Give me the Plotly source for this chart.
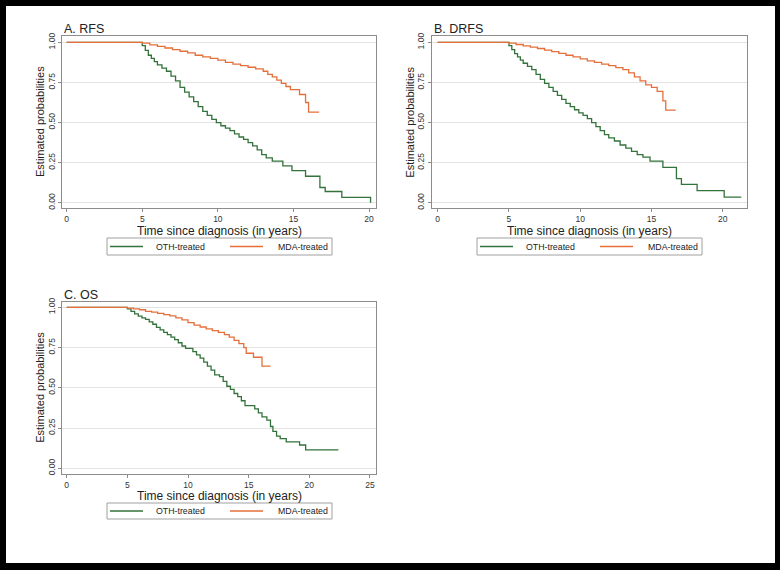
import plotly.graph_objects as go

# Kaplan-Meier step points (time in years, survival)
rfs_oth_t = [0, 5.0, 5.2, 5.4, 5.6, 5.8, 6.0, 6.3, 6.6, 6.9, 7.2, 7.5, 7.8, 8.1, 8.4, 8.7, 9.0, 9.3, 9.6, 9.9,
             10.2, 10.5, 10.8, 11.1, 11.4, 11.7, 12.0, 12.3, 12.6, 12.9, 13.2, 13.6, 14.3, 14.9, 15.8, 16.75,
             17.1, 18.2, 20.1]
rfs_oth_s = [1, 0.98, 0.95, 0.92, 0.90, 0.88, 0.86, 0.84, 0.82, 0.79, 0.76, 0.72, 0.69, 0.66, 0.63, 0.60, 0.57,
             0.545, 0.52, 0.50, 0.48, 0.465, 0.45, 0.43, 0.41, 0.395, 0.375, 0.355, 0.33, 0.30, 0.28, 0.26, 0.23,
             0.20, 0.165, 0.095, 0.07, 0.033, 0.0]
rfs_mda_t = [0, 5.0, 5.5, 6.0, 6.5, 7.0, 7.5, 8.0, 8.5, 9.0, 9.5, 10.0, 10.5, 11.0, 11.5, 12.0, 12.5, 13.0,
             13.3, 13.6, 13.9, 14.2, 14.5, 14.8, 15.4, 15.8, 16.0, 16.7]
rfs_mda_s = [1, 0.995, 0.985, 0.975, 0.965, 0.955, 0.945, 0.935, 0.92, 0.91, 0.90, 0.89, 0.875, 0.865, 0.855,
             0.845, 0.835, 0.82, 0.80, 0.785, 0.765, 0.745, 0.725, 0.705, 0.675, 0.625, 0.565, 0.565]

drfs_oth_t = [0, 5.0, 5.2, 5.4, 5.6, 5.8, 6.0, 6.3, 6.6, 6.9, 7.2, 7.5, 7.8, 8.1, 8.4, 8.7, 9.0, 9.3, 9.6, 9.9,
              10.2, 10.5, 10.8, 11.1, 11.4, 11.7, 12.0, 12.4, 12.8, 13.2, 13.6, 14.0, 14.4, 14.9, 15.8, 16.75,
              17.1, 18.2, 20.1, 21.3]
drfs_oth_s = [1, 0.98, 0.955, 0.93, 0.91, 0.89, 0.87, 0.85, 0.83, 0.80, 0.77, 0.745, 0.72, 0.695, 0.67, 0.645,
              0.62, 0.60, 0.58, 0.56, 0.545, 0.525, 0.50, 0.475, 0.45, 0.425, 0.405, 0.385, 0.36, 0.34, 0.32,
              0.30, 0.285, 0.26, 0.22, 0.15, 0.115, 0.075, 0.035, 0.035]
drfs_mda_t = [0, 5.0, 5.5, 6.0, 6.5, 7.0, 7.5, 8.0, 8.5, 9.0, 9.5, 10.0, 10.5, 11.0, 11.5, 12.0, 12.5, 13.0,
              13.4, 13.8, 14.2, 14.6, 15.0, 15.4, 15.8, 16.0, 16.7]
drfs_mda_s = [1, 0.995, 0.987, 0.978, 0.97, 0.962, 0.952, 0.942, 0.932, 0.92, 0.91, 0.897, 0.885, 0.875,
              0.865, 0.855, 0.843, 0.83, 0.81, 0.785, 0.76, 0.735, 0.72, 0.695, 0.635, 0.578, 0.578]

os_oth_t = [0, 5.0, 5.3, 5.6, 5.9, 6.2, 6.5, 6.8, 7.1, 7.4, 7.7, 8.0, 8.3, 8.6, 8.9, 9.2, 9.5, 9.8, 10.4, 10.7,
            11.0, 11.3, 11.6, 11.9, 12.2, 12.6, 12.9, 13.2, 13.5, 13.8, 14.1, 14.4, 14.7, 15.5, 15.8, 16.1,
            16.5, 16.8, 17.0, 17.3, 17.6, 18.1, 19.2, 19.7, 22.4]
os_oth_s = [1, 0.99, 0.975, 0.96, 0.945, 0.935, 0.925, 0.91, 0.895, 0.875, 0.86, 0.845, 0.83, 0.815, 0.80,
            0.78, 0.76, 0.745, 0.725, 0.705, 0.685, 0.66, 0.635, 0.61, 0.58, 0.57, 0.54, 0.51, 0.49, 0.465,
            0.445, 0.42, 0.39, 0.37, 0.345, 0.32, 0.30, 0.26, 0.23, 0.20, 0.185, 0.165, 0.145, 0.115, 0.115]
os_mda_t = [0, 5.0, 5.5, 6.0, 6.5, 7.0, 7.5, 8.0, 8.5, 9.0, 9.5, 10.0, 10.5, 11.0, 11.5, 12.0, 12.5, 13.0,
            13.4, 13.8, 14.2, 14.6, 14.8, 15.4, 16.1, 16.8]
os_mda_s = [1, 0.995, 0.99, 0.985, 0.975, 0.97, 0.963, 0.955, 0.947, 0.935, 0.922, 0.905, 0.89, 0.878, 0.866,
            0.855, 0.845, 0.83, 0.815, 0.795, 0.775, 0.75, 0.715, 0.69, 0.635, 0.635]

panel_titles = ["A. RFS", "B. DRFS", "C. OS"]
group_names = ["OTH-treated", "MDA-treated"]
y_ticks = [0, 0.25, 0.5, 0.75, 1.0]

green = "#33723a"
orange = "#e56f3a"
font = "Liberation Sans, Arial, sans-serif"

panels = [
    (rfs_oth_t, rfs_oth_s, rfs_mda_t, rfs_mda_s),
    (drfs_oth_t, drfs_oth_s, drfs_mda_t, drfs_mda_s),
    (os_oth_t, os_oth_s, os_mda_t, os_mda_s),
]

W, H = 780, 570
# panel boxes in pixels: left, right, top, bottom
boxes = [(62, 376, 36, 208), (431.7, 746.7, 36, 208), (62, 376, 301.7, 474)]
x_ranges = [[-0.31, 20.46], [-0.42, 21.68], [-0.39, 25.5]]
y_ranges = [[-0.033, 1.04], [-0.033, 1.04], [-0.035, 1.035]]
# legend boxes in pixels: left, right, top, bottom
legend_boxes = [(107, 332, 238, 255), (477, 702, 238, 255), (107, 332, 503, 519)]
xtitle_px = [230.5, 230.5, 495.5]


def px(x):
    return x / W


def py(y):
    return 1 - y / H


fig = go.Figure()

for i, (ot, os_, mt, ms) in enumerate(panels):
    n = "" if i == 0 else str(i + 1)
    left, right, top, bottom = boxes[i]
    fig.add_trace(go.Scatter(x=ot, y=os_, mode="lines", line_shape="hv", name=group_names[0],
                             line=dict(color=green, width=1.3), xaxis="x" + n, yaxis="y" + n,
                             showlegend=False))
    fig.add_trace(go.Scatter(x=mt, y=ms, mode="lines", line_shape="hv", name=group_names[1],
                             line=dict(color=orange, width=1.3), xaxis="x" + n, yaxis="y" + n,
                             showlegend=False))

    fig.update_layout({
        "xaxis" + n: dict(domain=[px(left), px(right)], range=x_ranges[i], anchor="y" + n, dtick=5, tick0=0,
                          showgrid=False, zeroline=False, showline=True, mirror=True, linecolor="#8c8c8c",
                          linewidth=1, ticks="outside", ticklen=3, tickcolor="#8c8c8c", automargin=False,
                          tickfont=dict(size=8.5, color="#333")),
        "yaxis" + n: dict(domain=[py(bottom), py(top)], range=y_ranges[i], anchor="x" + n,
                          tickvals=y_ticks, tickformat=".2f", tickangle=-90, showgrid=True, gridcolor="#e3e3e3",
                          gridwidth=1, zeroline=False, showline=True, mirror=True, linecolor="#8c8c8c",
                          linewidth=1, ticks="outside", ticklen=3, tickcolor="#8c8c8c", automargin=False,
                          tickfont=dict(size=8.5, color="#333")),
    })
    fig.add_annotation(text=panel_titles[i], x=px(left), y=py(top - 7), xref="paper", yref="paper",
                       xanchor="left", yanchor="middle", showarrow=False, font=dict(size=12.5, color="#222"))
    fig.add_annotation(text="Time since diagnosis (in years)", x=px((left + right) / 2), y=py(xtitle_px[i]),
                       xref="paper", yref="paper", xanchor="center", yanchor="middle", showarrow=False,
                       font=dict(size=12, color="#222"))
    fig.add_annotation(text="Estimated probabilities", x=px(left - 22), y=py((top + bottom) / 2),
                       xref="paper", yref="paper", xanchor="center", yanchor="middle", textangle=-90,
                       showarrow=False, font=dict(size=11, color="#222"))

    # legend box under each panel
    l0, l1, t0, t1 = legend_boxes[i]
    ym = (t0 + t1) / 2
    fig.add_shape(type="rect", xref="paper", yref="paper", x0=px(l0), x1=px(l1), y0=py(t1), y1=py(t0),
                  line=dict(color="#a0a0a0", width=1), fillcolor="white")
    for k, (col, name) in enumerate([(green, group_names[0]), (orange, group_names[1])]):
        s0 = l0 + 3 + k * 120
        fig.add_shape(type="line", xref="paper", yref="paper", x0=px(s0), x1=px(s0 + 33), y0=py(ym), y1=py(ym),
                      line=dict(color=col, width=1.3))
        fig.add_annotation(text=name, x=px(s0 + 44 + k * 2), y=py(ym), xref="paper", yref="paper",
                           xanchor="left", yanchor="middle", showarrow=False, font=dict(size=8.8, color="#222"))

# black frame round the picture
fig.add_shape(type="rect", xref="paper", yref="paper", x0=px(6), x1=px(775), y0=py(563), y1=py(6),
              fillcolor="white", line=dict(width=0), layer="below")

fig.update_layout(width=W, height=H, margin=dict(l=0, r=0, t=0, b=0, autoexpand=False), paper_bgcolor="black",
                  plot_bgcolor="white", font=dict(family=font), showlegend=False)

# the page's default body margin would shift the figure by 8px
fig.write_html("out.html", config={"displayModeBar": False},
               post_script="document.body.style.margin='0';")
